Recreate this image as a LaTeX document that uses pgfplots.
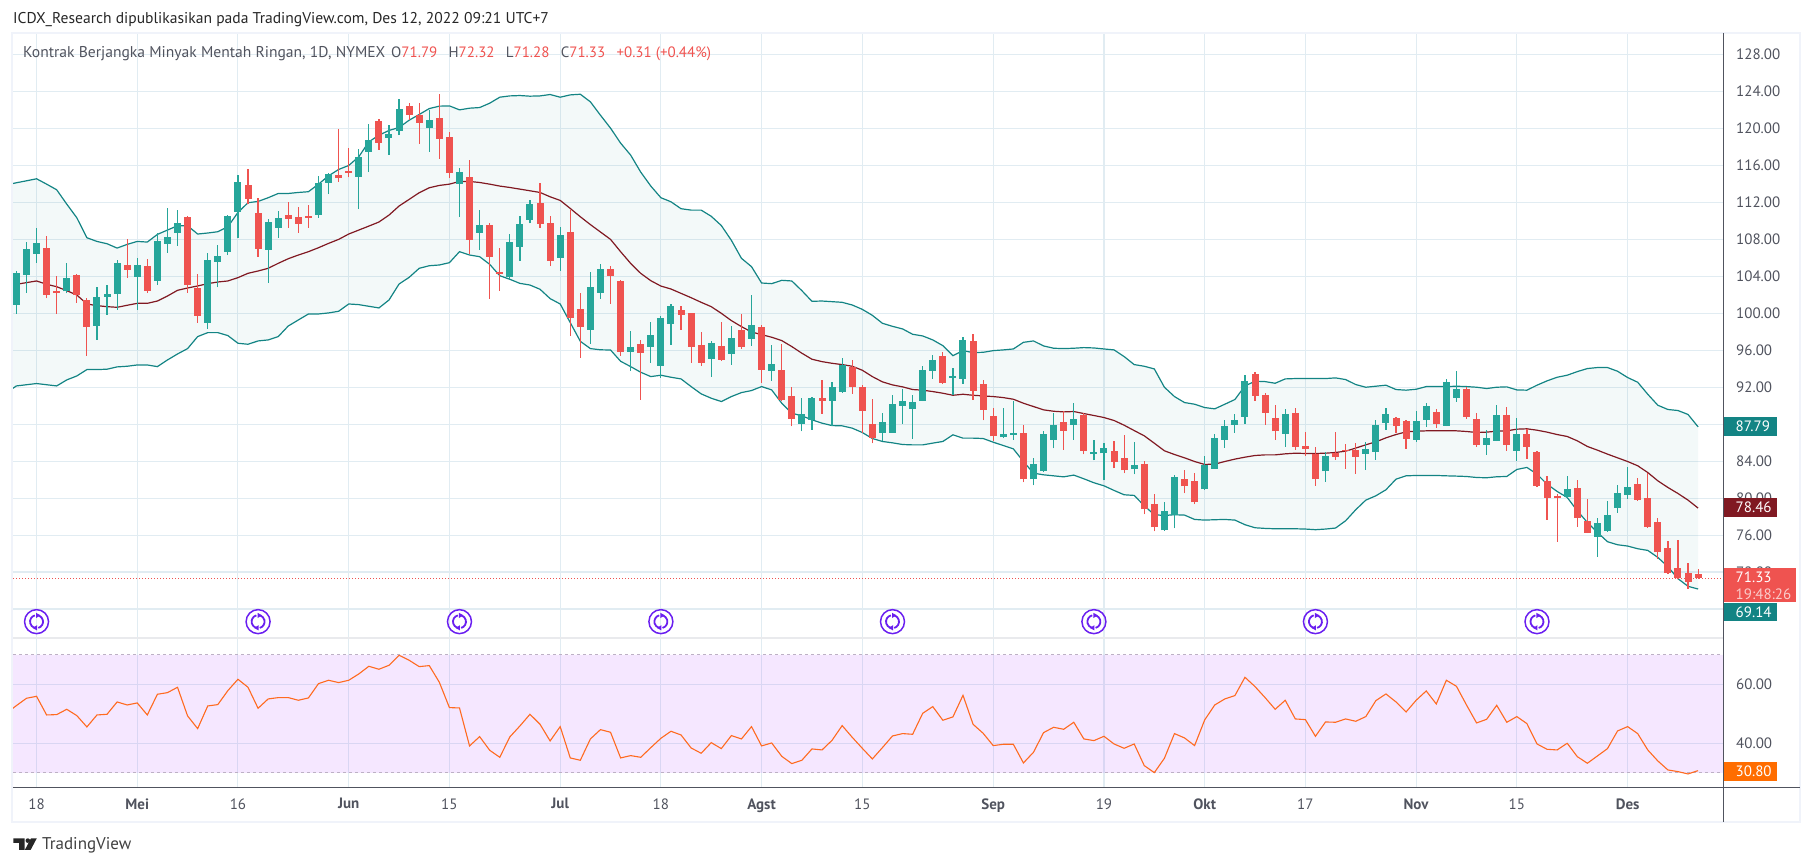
\documentclass[border=0pt]{standalone}
\usepackage{fontspec}
\setmainfont{PT Sans}
\usepackage{pgfplots}
\usepackage{pgfplotstable}
\pgfplotsset{compat=1.18}
\usepgfplotslibrary{fillbetween}

\definecolor{up}{HTML}{26A69A}
\definecolor{down}{HTML}{EF5350}
\definecolor{band}{HTML}{138484}
\definecolor{basis}{HTML}{801922}
\definecolor{gridc}{HTML}{E1ECF2}
\definecolor{txt}{HTML}{50535E}
\definecolor{frame}{HTML}{F0F3FA}
\definecolor{rsi}{HTML}{FF6D00}
\definecolor{rsiline}{HTML}{FF6A20}
\definecolor{rsibg}{HTML}{9915FF}
\definecolor{rsidash}{HTML}{BDB1C5}
\definecolor{expiry}{HTML}{6A1FF0}

% n = bar number
\pgfplotstableread{
n o h l c
1 100.94 104.58 99.96 104.36
2 104.18 107.68 102.23 106.92
3 106.45 109.23 105.48 107.57
4 107.06 108.36 101.62 102.02
5 102.38 104.04 99.96 102.23
6 102.38 105.41 102.16 103.82
7 104.15 104.22 101.15 102.02
8 101.44 101.62 95.42 98.56
9 98.67 102.85 97.15 101.77
10 101.80 103.06 99.86 102.09
11 102.13 105.73 100.36 105.44
12 105.23 108.04 103.86 104.72
13 103.96 105.95 100.40 105.23
14 105.12 105.87 102.23 102.42
15 103.53 108.65 103.10 107.82
16 107.53 111.35 106.56 108.25
17 108.72 111.17 107.32 109.77
18 110.42 110.52 102.23 103.10
19 102.74 104.25 98.99 99.75
20 98.99 106.49 98.34 105.77
21 105.59 107.35 102.81 106.20
22 106.67 110.60 106.31 110.52
23 110.99 114.96 108.15 114.20
24 113.88 115.61 111.82 112.36
25 110.85 112.47 106.13 106.99
26 106.88 110.16 103.32 109.88
27 109.26 111.06 108.18 110.31
28 110.63 112.04 109.26 110.24
29 110.42 111.50 108.72 109.70
30 110.42 111.71 109.26 110.34
31 110.67 114.81 110.34 114.09
32 114.13 115.14 112.90 115.07
33 114.96 119.93 114.24 114.67
34 115.35 117.88 114.70 115.17
35 114.78 117.77 111.28 116.90
36 117.48 120.47 115.28 118.81
37 120.80 121.01 117.70 118.45
38 118.99 120.33 117.16 119.39
39 119.75 123.17 119.28 122.09
40 122.42 122.74 120.90 121.48
41 121.41 122.74 118.34 120.62
42 120.04 121.98 117.48 120.90
43 121.12 123.71 116.72 118.89
44 119.07 119.61 114.63 115.21
45 114.02 115.71 110.45 115.28
46 114.74 116.58 106.38 107.97
47 108.72 111.17 106.88 109.55
48 109.55 109.73 101.59 106.13
49 104.47 107.06 102.45 104.29
50 103.93 108.58 103.68 107.71
51 107.21 110.52 105.69 109.66
52 110.13 112.25 109.73 111.82
53 111.93 114.09 109.26 109.70
54 109.77 110.52 105.12 105.69
55 106.02 109.33 104.61 108.47
56 108.79 111.17 97.55 99.53
57 100.47 102.16 95.17 98.56
58 98.23 104.51 96.72 102.85
59 102.23 105.33 101.58 104.79
60 104.79 105.12 101.04 104.04
61 103.49 103.60 95.42 95.85
62 95.85 98.09 93.80 96.36
63 96.68 97.12 90.66 95.75
64 96.39 99.06 94.66 97.66
65 94.34 99.71 93.04 99.49
66 98.88 101.01 96.61 100.79
67 100.36 100.79 98.23 99.85
68 100.03 100.08 94.66 96.39
69 96.58 97.98 94.34 94.67
70 95.10 97.01 93.15 96.79
71 96.47 99.06 94.85 94.95
72 95.64 98.63 94.41 97.33
73 98.20 99.93 96.18 96.40
74 97.26 101.98 96.50 98.74
75 98.52 98.74 92.47 93.91
76 93.80 96.58 92.72 94.52
77 93.87 96.68 90.56 90.67
78 91.06 92.04 87.75 88.61
79 88.07 90.85 87.21 89.12
80 88.50 90.95 87.42 90.85
81 90.85 92.79 89.15 90.56
82 90.56 92.58 87.85 92.04
83 91.50 95.17 91.42 94.45
84 94.20 94.95 91.31 92.07
85 92.04 92.25 87.10 89.48
86 88.04 90.74 85.91 86.52
87 87.10 89.22 86.13 88.25
88 87.10 91.17 87.05 90.20
89 90.02 91.82 88.07 90.52
90 89.69 91.17 86.45 90.41
91 90.56 94.31 90.50 93.87
92 93.80 95.50 92.94 94.95
93 95.39 95.82 92.40 92.47
94 93.01 94.09 91.17 93.12
95 92.94 97.44 92.40 97.12
96 97.01 97.77 90.67 91.64
97 92.36 92.79 88.40 89.58
98 88.90 89.77 86.13 86.67
99 86.56 89.77 86.50 86.95
100 86.88 90.52 86.34 86.95
101 87.06 87.93 81.69 82.02
102 82.02 84.36 81.37 83.71
103 82.88 87.28 82.80 86.95
104 86.34 89.26 85.37 87.93
105 88.25 89.40 85.26 87.31
106 87.96 90.31 86.34 88.58
107 89.01 89.22 84.72 85.15
108 84.76 86.31 84.07 84.90
109 84.83 85.98 81.91 85.44
110 85.12 86.20 83.21 83.96
111 84.36 86.85 82.67 82.99
112 83.10 86.09 82.56 83.60
113 83.71 84.03 78.23 78.77
114 79.39 80.47 76.39 76.83
115 76.50 79.60 76.45 78.63
116 78.16 82.52 76.72 82.30
117 82.09 83.06 80.50 81.26
118 81.87 82.74 79.31 79.53
119 80.94 84.58 80.90 83.60
120 83.17 86.96 83.15 86.52
121 86.34 88.47 85.44 87.82
122 87.96 89.12 87.06 88.47
123 88.79 93.33 88.04 92.69
124 93.44 93.66 90.52 91.10
125 91.17 91.39 87.93 89.26
126 88.69 90.09 86.31 87.21
127 86.99 89.66 85.55 89.12
128 89.23 89.77 85.23 85.55
129 85.66 87.17 84.58 85.33
130 84.79 85.55 81.33 82.02
131 82.88 85.01 81.77 84.58
132 84.90 87.17 84.14 84.50
133 85.12 85.87 83.17 85.05
134 85.23 85.98 82.63 84.47
135 84.79 86.09 83.06 85.33
136 85.01 88.47 84.14 87.93
137 88.14 89.77 87.39 89.12
138 88.69 88.79 87.06 87.82
139 88.36 88.40 85.33 86.45
140 86.31 89.44 86.09 88.36
141 88.47 90.31 87.71 89.98
142 89.33 89.66 87.60 88.04
143 87.82 92.90 87.80 92.58
144 90.85 93.77 90.42 91.82
145 91.82 92.04 88.58 88.79
146 88.58 89.23 85.55 85.77
147 85.77 87.39 84.68 86.52
148 86.20 90.09 86.18 89.01
149 89.01 89.87 85.12 85.77
150 85.12 88.69 84.04 86.96
151 86.96 87.50 84.25 85.55
152 85.01 85.05 81.22 81.33
153 81.87 82.41 77.66 80.04
154 80.25 80.47 75.28 79.96
155 80.14 82.41 80.04 81.01
156 81.12 81.98 76.90 77.87
157 77.55 79.93 76.20 76.25
158 75.82 77.87 73.66 77.33
159 76.47 79.71 76.36 78.20
160 78.95 81.44 78.41 80.58
161 80.36 83.39 79.93 81.22
162 81.55 82.20 79.71 79.82
163 80.04 82.74 76.79 76.90
164 77.44 77.87 73.44 74.20
165 74.63 75.39 71.82 71.93
166 72.47 75.49 71.21 71.31
167 71.93 73.01 70.20 70.95
168 71.79 72.32 71.28 71.33
}\ohlc

% bollinger bands
\pgfplotstableread{
n up mid lo
0 113.90 103.00 91.40
1 114.13 103.14 92.14
2 114.34 103.32 92.27
3 114.56 103.50 92.40
4 113.98 103.14 92.27
5 113.37 102.88 92.14
6 111.82 102.45 92.79
7 110.34 101.98 93.22
8 108.18 101.01 93.91
9 107.78 100.83 93.91
10 107.53 100.72 93.95
11 107.06 100.65 94.20
12 107.46 100.87 94.27
13 107.78 101.08 94.41
14 107.71 101.08 94.41
15 108.54 101.33 94.23
16 109.01 101.87 94.95
17 109.48 102.49 95.60
18 109.48 102.74 96.18
19 108.58 102.96 97.48
20 108.69 103.21 97.91
21 108.83 103.39 97.91
22 109.37 103.50 97.59
23 110.92 103.86 96.76
24 111.97 104.33 96.65
25 112.11 104.58 97.01
26 112.51 104.87 97.12
27 112.97 105.41 97.48
28 112.97 105.91 98.63
29 113.08 106.31 99.28
30 113.16 106.67 99.93
31 113.98 107.10 99.93
32 114.88 107.57 100.04
33 115.57 108.00 100.22
34 116.00 108.58 101.01
35 116.94 109.01 100.94
36 118.56 109.44 100.76
37 119.28 109.88 100.58
38 119.79 110.63 101.44
39 120.11 111.61 103.17
40 120.90 112.33 103.89
41 121.52 113.05 104.87
42 122.16 113.59 105.15
43 122.42 113.84 105.23
44 122.45 113.98 105.48
45 122.02 114.27 106.67
46 122.20 114.27 106.31
47 122.27 114.16 106.13
48 122.74 113.98 105.30
49 123.39 113.77 104.07
50 123.53 113.62 103.68
51 123.57 113.44 103.24
52 123.50 113.26 103.06
53 123.53 113.08 102.60
54 123.68 112.61 101.59
55 123.39 112.22 101.01
56 123.64 111.35 98.99
57 123.71 110.45 96.97
58 122.89 109.60 96.18
59 121.44 108.80 96.05
60 120.04 108.00 96.03
61 118.42 106.67 94.81
62 117.12 105.40 94.23
63 115.28 104.32 93.62
64 113.77 103.53 93.15
65 112.51 102.95 93.30
66 112.07 102.63 93.08
67 111.32 102.16 92.90
68 111.17 101.69 92.07
69 111.17 101.19 91.28
70 110.50 100.72 90.81
71 109.50 100.00 90.45
72 107.90 99.21 90.99
73 105.95 98.56 91.42
74 105.05 97.98 91.64
75 103.28 97.69 92.07
76 103.21 97.41 91.71
77 103.57 97.05 90.27
78 103.50 96.40 89.19
79 102.45 95.68 88.90
80 101.30 95.03 88.47
81 101.33 94.77 88.11
82 101.26 94.59 87.85
83 101.19 94.45 87.82
84 100.90 94.27 87.57
85 100.43 93.84 87.10
86 99.78 93.15 86.45
87 98.92 92.58 86.13
88 98.59 92.25 85.98
89 98.31 92.04 85.80
90 97.73 91.75 85.76
91 97.55 91.68 85.76
92 97.12 91.53 85.95
93 96.50 91.35 86.13
94 95.42 91.13 86.85
95 95.96 91.24 86.49
96 95.75 91.13 86.49
97 95.78 91.06 86.45
98 95.96 90.99 86.05
99 96.04 90.88 85.69
100 96.14 90.70 85.33
101 96.86 90.27 83.96
102 97.01 89.91 82.70
103 96.47 89.55 82.52
104 96.22 89.40 82.41
105 96.18 89.33 82.30
106 96.22 89.37 82.49
107 96.29 89.15 82.09
108 96.25 88.94 81.66
109 96.14 88.72 81.33
110 96.04 88.40 80.83
111 95.32 87.89 80.36
112 94.45 87.31 80.29
113 94.27 86.74 79.17
114 93.98 85.94 78.20
115 92.00 85.12 78.12
116 90.99 84.72 78.20
117 90.34 84.36 78.16
118 90.16 83.96 77.69
119 89.80 83.64 77.62
120 89.66 83.68 77.66
121 90.16 83.96 77.69
122 90.67 84.22 77.62
123 92.14 84.43 77.12
124 92.65 84.61 76.79
125 92.61 84.68 76.72
126 92.43 84.68 76.68
127 92.90 84.79 76.68
128 92.94 84.86 76.68
129 92.94 84.83 76.65
130 92.94 84.83 76.58
131 92.94 84.86 76.65
132 93.01 84.94 76.76
133 92.83 85.08 77.55
134 92.29 85.41 78.74
135 92.00 85.77 79.78
136 92.11 86.09 80.25
137 92.22 86.52 80.90
138 91.75 86.88 82.05
139 91.68 87.17 82.41
140 91.78 87.24 82.45
141 92.07 87.28 82.45
142 92.07 87.28 82.45
143 92.07 87.28 82.41
144 92.11 87.28 82.38
145 92.07 87.21 82.34
146 92.00 87.10 82.23
147 91.86 87.14 82.20
148 92.00 87.24 82.31
149 92.04 87.28 82.34
150 91.71 87.46 83.10
151 91.68 87.50 83.32
152 92.22 87.35 82.59
153 92.69 87.14 81.51
154 93.08 86.88 80.72
155 93.30 86.67 80.07
156 93.69 86.20 78.63
157 94.02 85.59 77.37
158 94.13 85.19 76.29
159 94.13 84.76 75.28
160 93.73 84.36 74.95
161 93.05 83.96 74.81
162 92.54 83.50 74.52
163 91.24 82.77 74.34
164 90.05 81.87 73.58
165 89.59 81.15 72.58
166 89.48 80.50 71.28
167 89.05 79.78 70.45
168 87.71 78.92 70.16
}\bands

\pgfplotstableread{
n r
0 50.17
1 52.77
2 55.25
3 55.93
4 49.60
5 49.72
6 51.52
7 49.38
8 45.54
9 49.60
10 49.83
11 54.01
12 52.99
13 53.67
14 49.60
15 56.61
16 57.17
17 58.98
18 49.26
19 44.97
20 52.65
21 53.11
22 57.85
23 61.70
24 58.98
25 51.86
26 55.03
27 55.48
28 55.48
29 54.58
30 55.37
31 60.23
32 61.36
33 60.57
34 61.36
35 63.50
36 66.10
37 65.09
38 66.44
39 69.83
40 68.14
41 65.99
42 66.33
43 60.68
44 52.09
45 51.98
46 39.10
47 42.26
48 37.63
49 35.25
50 42.15
51 45.87
52 49.83
53 46.44
54 40.79
55 45.65
56 35.03
57 34.24
58 41.47
59 44.63
60 43.73
61 35.03
62 35.82
63 35.25
64 38.53
65 41.69
66 44.07
67 42.82
68 38.42
69 36.61
70 40.22
71 38.19
72 42.60
73 41.47
74 45.65
75 39.10
76 40.11
77 35.59
78 33.11
79 34.24
80 38.08
81 37.74
82 41.02
83 45.99
84 42.03
85 38.30
86 34.69
87 38.53
88 42.48
89 43.28
90 43.05
91 50.17
92 52.43
93 47.80
94 48.93
95 56.27
96 46.44
97 43.39
98 39.21
99 39.66
100 39.66
101 33.33
102 36.95
103 43.61
104 45.42
105 44.74
106 47.12
107 41.47
108 40.90
109 42.37
110 39.77
111 38.30
112 39.77
113 32.43
114 30.05
115 34.91
116 43.28
117 41.81
118 39.21
119 47.91
120 52.99
121 55.03
122 56.16
123 62.37
124 59.21
125 55.48
126 51.52
127 54.58
128 48.25
129 48.02
130 42.37
131 47.23
132 47.12
133 48.25
134 47.46
135 49.04
136 54.46
137 56.72
138 54.01
139 50.62
140 54.58
141 57.74
142 53.33
143 61.36
144 59.32
145 52.99
146 46.89
147 48.13
148 52.88
149 47.12
150 49.04
151 46.67
152 39.77
153 37.96
154 37.74
155 40.00
156 35.48
157 33.22
158 35.70
159 38.19
160 44.18
161 45.65
162 43.28
163 37.74
164 34.01
165 30.96
166 30.39
167 29.60
168 30.73
}\rsitab

\pgfplotsset{
  candle part/.style 2 args={
    draw=none, mark=none, forget plot,
    error bars/.cd, y dir=plus, y explicit, error mark=none,
    error bar style={line width=#1, draw=#2, solid}
  },
  pane/.style={
    scale only axis, anchor=south west, width=1710pt,
    xmin=0.662, xmax=170.47,
    axis line style={draw=none}, tick style={draw=none},
    major tick length=0pt,
    grid=major, grid style={gridc, line width=1.1pt},
    xtick={3,13,23,34,44,55,65,75,85,98,109,119,129,140,150,161},
    ytick pos=right, yticklabel pos=right,
    /pgf/number format/assume math mode=true,
    /pgf/number format/fixed, /pgf/number format/fixed zerofill,
    /pgf/number format/precision=2,
    yticklabel style={anchor=west, inner sep=0pt, xshift=13pt, font=\fontsize{15}{16}\selectfont, text=txt},
    xticklabel style={inner sep=0pt, yshift=-11pt, font=\fontsize{15}{16}\selectfont, text=txt},
  }
}

% expiry marker: ring with two arrows
\pgfdeclareplotmark{rollover}{
  \pgfsetlinewidth{1.5pt}
  \pgfpathcircle{\pgfpointorigin}{12pt}
  \pgfusepathqstroke
  \pgfsetlinewidth{1.8pt}
  \pgfpathmoveto{\pgfpointpolar{105}{6.5pt}}
  \pgfpatharc{105}{250}{6.5pt}
  \pgfpathmoveto{\pgfpointpolar{285}{6.5pt}}
  \pgfpatharc{285}{430}{6.5pt}
  \pgfusepathqstroke
  \pgfpathmoveto{\pgfpoint{-0.5pt}{8.8pt}}
  \pgfpathlineto{\pgfpoint{4pt}{6.3pt}}
  \pgfpathlineto{\pgfpoint{-0.5pt}{3.6pt}}
  \pgfpathclose
  \pgfpathmoveto{\pgfpoint{0.5pt}{-8.8pt}}
  \pgfpathlineto{\pgfpoint{-4pt}{-6.3pt}}
  \pgfpathlineto{\pgfpoint{0.5pt}{-3.6pt}}
  \pgfpathclose
  \pgfusepathqfill
}

\begin{document}
\begin{tikzpicture}

% price pane
\begin{axis}[pane, at={(13pt,228pt)}, height=605pt,
  ymin=64.86, ymax=130.34,
  ytick={68,72,...,128}, xticklabel=\empty]
  \addplot[name path=upper, band, line width=1.2pt] table[x=n,y=up]{\bands};
  \addplot[name path=lower, band, line width=1.2pt] table[x=n,y=lo]{\bands};
  \addplot[band, fill opacity=0.05] fill between[of=upper and lower];
  \addplot[basis, line width=1.2pt] table[x=n,y=mid]{\bands};
  \addplot[down, dash pattern=on 1pt off 2pt, line width=0.8pt] coordinates {(0.662,71.33) (170.47,71.33)};
  % wick/body height is 0 for bars of the other colour
  \addplot[candle part={1.2pt}{up}] table[x=n, y=l, y error plus expr={\thisrow{c}<\thisrow{o} ? 0 : \thisrow{h}-\thisrow{l}}]{\ohlc};
  \addplot[candle part={1.2pt}{down}] table[x=n, y=l, y error plus expr={\thisrow{c}<\thisrow{o} ? \thisrow{h}-\thisrow{l} : 0}]{\ohlc};
  \addplot[candle part={7pt}{up}] table[x=n, y expr={min(\thisrow{o},\thisrow{c})}, y error plus expr={\thisrow{c}<\thisrow{o} ? 0 : max(\thisrow{c}-\thisrow{o},0.2)}]{\ohlc};
  \addplot[candle part={7pt}{down}] table[x=n, y expr={min(\thisrow{o},\thisrow{c})}, y error plus expr={\thisrow{c}<\thisrow{o} ? max(\thisrow{o}-\thisrow{c},0.2) : 0}]{\ohlc};
  \addplot[only marks, mark=rollover, color=expiry] coordinates {
    (3,66.63) (25,66.63) (45,66.63) (65,66.63) (88,66.63) (108,66.63) (130,66.63) (152,66.63)};
\end{axis}

% rsi pane
\begin{axis}[pane, at={(13pt,78.7pt)}, height=149.3pt,
  ymin=25.08, ymax=75.69,
  ytick={40,60},
  xticklabels={18,\textbf{Mei},16,\textbf{Jun},15,\textbf{Jul},18,\textbf{Agst},15,\textbf{Sep},19,\textbf{Okt},17,\textbf{Nov},15,\textbf{Des}}]
  \addplot[draw=none, fill=rsibg, fill opacity=0.1] coordinates {(0.662,30) (170.47,30) (170.47,70) (0.662,70)} \closedcycle;
  \addplot[rsidash, dashed, line width=0.9pt] coordinates {(0.662,70) (170.47,70)};
  \addplot[rsidash, dashed, line width=0.9pt] coordinates {(0.662,30) (170.47,30)};
  \addplot[rsiline, line width=1.1pt] table[x=n,y=r]{\rsitab};
\end{axis}

\begin{scope}[x=1pt,y=-1pt,yshift=866pt]
  % frame and separators
  \draw[frame, line width=2pt] (12,33) rectangle (1800,822);
  \draw[frame!80!gray!60, line width=1.2pt] (13,638) -- (1723,638);
  \draw[txt, line width=1.2pt] (13,787.3) -- (1800,787.3);
  \draw[txt, line width=1.2pt] (1723.3,33) -- (1723.3,822);
  % header
  \node[anchor=west, inner sep=0pt, text=black!85, font=\fontsize{15.6}{17}\selectfont] at (13,20)
    {ICDX\_Research dipublikasikan pada TradingView.com, Des 12, 2022 09:21 UTC+7};
  \node[anchor=west, inner sep=0pt, text=txt, font=\fontsize{15.6}{17}\selectfont] at (23,54)
    {Kontrak Berjangka Minyak Mentah Ringan, 1D, NYMEX};
  \node[anchor=west, inner sep=0pt, text=txt, font=\fontsize{15}{17}\selectfont] at (391,54)
    {O\textcolor{down}{71.79}\hspace{0.75em}H\textcolor{down}{72.32}\hspace{0.75em}L\textcolor{down}{71.28}\hspace{0.75em}C\textcolor{down}{71.33}\hspace{0.75em}\textcolor{down}{+0.31 (+0.44\%)}};
  % price tags
  \tikzset{tag/.style={anchor=west, inner sep=0pt, text=white, font=\fontsize{15}{16}\selectfont}}
  \fill[band] (1723.8,417) rectangle (1776.6,436);
  \node[tag] at (1735.5,426.5) {87.79};
  \fill[basis] (1723.8,498) rectangle (1776.6,516.7);
  \node[tag] at (1735.5,507.3) {78.46};
  \fill[band] (1723.8,603) rectangle (1776.6,621.5);
  \node[tag] at (1735.5,612.3) {69.14};
  \fill[down] (1723.8,568.3) rectangle (1796,602.5);
  \node[tag] at (1735.5,577.7) {71.33};
  \node[tag, text=white!70!down] at (1735.5,594.3) {19:48:26};
  \fill[rsi] (1723.8,762.3) rectangle (1776.6,781);
  \node[tag] at (1735.5,771.6) {30.80};
  % logo
  \fill[black!85] (13.4,838.3) -- (24.5,838.3) -- (24.5,850) -- (19,850) -- (19,842.8) -- (13.4,842.8) -- cycle;
  \fill[black!85] (27.8,840.6) circle (2.3);
  \fill[black!85] (31,838.3) -- (36.8,838.3) -- (30.6,850) -- (24.8,850) -- cycle;
  \node[anchor=west, inner sep=0pt, text=black!75, font=\fontsize{17}{18}\selectfont] at (42,845) {TradingView};
\end{scope}
\pgfresetboundingbox
\path[use as bounding box] (0,0) rectangle (1813pt,866pt);
\end{tikzpicture}
\end{document}
